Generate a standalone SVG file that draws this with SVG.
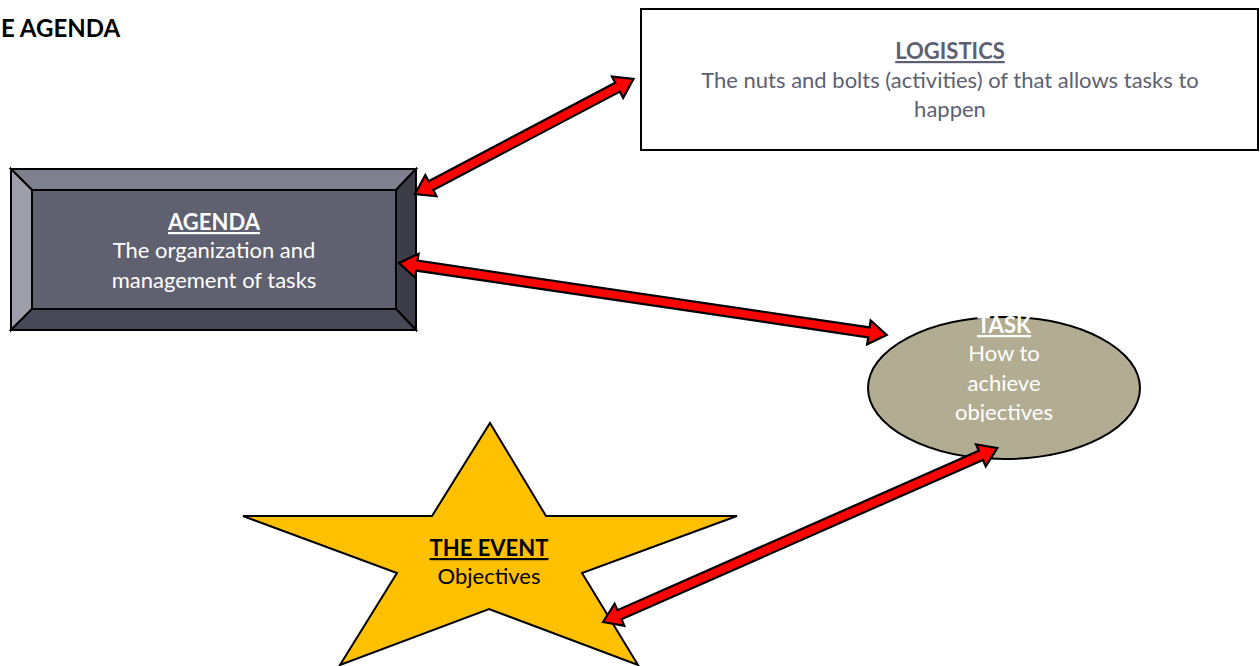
<svg xmlns="http://www.w3.org/2000/svg" width="1260" height="666" viewBox="0 0 1260 666">
<style>
.t{font-family:Lato,"Open Sans","Liberation Sans",sans-serif;font-size:22px;text-anchor:middle}
.b{font-weight:bold;text-decoration:underline}
.st{stroke:#000;stroke-width:2;stroke-linejoin:miter}
.arr{fill:#ff0000;stroke:#000;stroke-width:2.2;stroke-linejoin:miter}
</style>
<rect width="1260" height="666" fill="#fff"/>
<text x="1" y="37" font-family="Lato,'Open Sans','Liberation Sans',sans-serif" font-size="24" font-weight="bold" fill="#000">E AGENDA</text>
<g id="agenda">
<polygon class="st" points="11,169 416,169 396,190 32,190" fill="#7f808e"/>
<polygon class="st" points="11,169 32,190 32,309 11,330" fill="#9d9eaa"/>
<polygon class="st" points="416,169 416,330 396,309 396,190" fill="#3b3c48"/>
<polygon class="st" points="11,330 32,309 396,309 416,330" fill="#484957"/>
<rect class="st" x="32" y="190" width="364" height="119" fill="#5f6170"/>
<text class="t" fill="#fff"><tspan class="b" x="214" y="230">AGENDA</tspan><tspan x="214" y="258">The organization and</tspan><tspan x="214" y="288">management of tasks</tspan></text>
</g>
<g id="logistics">
<rect class="st" x="641" y="9" width="617" height="141" fill="#fff"/>
<text class="t" fill="#5d6072"><tspan class="b" x="950" y="59">LOGISTICS</tspan><tspan x="950" y="88">The nuts and bolts (activities) of that allows tasks to</tspan><tspan x="950" y="117">happen</tspan></text>
</g>
<g id="task">
<ellipse class="st" cx="1004" cy="388" rx="136" ry="71" fill="#b2ad92"/>
<clipPath id="tc"><rect x="870" y="300" width="270" height="122"/></clipPath>
<text class="t" fill="#fff" clip-path="url(#tc)"><tspan class="b" x="1004" y="333">TASK</tspan><tspan x="1004" y="361">How to</tspan><tspan x="1004" y="391">achieve</tspan><tspan x="1004" y="420">objectives</tspan></text>
</g>
<g id="event">
<polygon class="st" points="490,423 546,516 737,516 582,573 638,665 489,609 340,665 397,573 243,516 432,516" fill="#ffc000"/>
<text class="t" fill="#000"><tspan class="b" x="489" y="556">THE EVENT</tspan><tspan x="489" y="584">Objectives</tspan></text>
</g>
<g id="connectors">
<path class="arr" transform="translate(415,194) rotate(-27.8)" d="M0,0 L18,-12 L18,-5 L229,-5 L229,-12 L247,0 L229,12 L229,5 L18,5 L18,12 Z"/>
<path class="arr" transform="translate(399,263) rotate(8.4)" d="M0,0 L18,-12 L18,-5 L475,-5 L475,-12 L493,0 L475,12 L475,5 L18,5 L18,12 Z"/>
<path class="arr" transform="translate(603,622) rotate(-23.8)" d="M0,0 L18,-12 L18,-5 L413,-5 L413,-12 L431,0 L413,12 L413,5 L18,5 L18,12 Z"/>
</g>
</svg>
